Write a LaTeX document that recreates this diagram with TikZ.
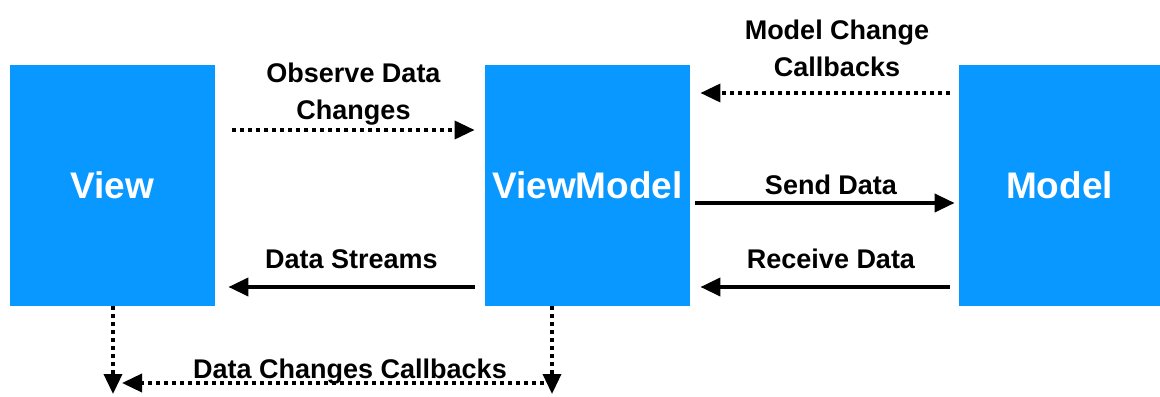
\documentclass[tikz,border=0pt]{standalone}
\usepackage{fontspec}
\setmainfont{Liberation Sans}
\usetikzlibrary{arrows.meta}
\definecolor{boxblue}{RGB}{8,152,255}

\begin{document}
\begin{tikzpicture}[x=0.5pt, y=0.5pt,
    layer/.style={fill=boxblue, text=white, inner sep=0pt, minimum height=120.5pt,
        font=\fontsize{18.5}{20}\selectfont\bfseries},
    lbl/.style={font=\fontsize{13.5}{18.5}\selectfont\bfseries, align=center},
    flow/.style={-{Triangle[length=10pt, width=9pt]}, line width=1.9pt},
    dotflow/.style={flow, line width=1.8pt, dash pattern=on 1.8pt off 2.2pt}]
\useasboundingbox (0,0) rectangle (1160,396);
% Draw the three layers
\node[layer, minimum width=102.5pt] (view) at (112.5,210.5) {View};
\node[layer, minimum width=102.5pt] (vm) at (587.5,210.5) {ViewModel};
\node[layer, minimum width=100.5pt] (model) at (1059.5,210.5) {Model};
% Draw arrows between view and viewmodel
\draw[dotflow] ([shift={(17,55.5)}]view.east) -- ([shift={(-10,55.5)}]vm.west)
    node[lbl, midway, above=-2pt] {Observe Data\\Changes};
\draw[flow] ([shift={(-10,-101.5)}]vm.west) -- ([shift={(13,-101.5)}]view.east)
    node[lbl, midway, above=5pt] {Data Streams};
% Draw arrows between viewmodel and model
\draw[dotflow] ([shift={(-9,92.5)}]model.west) -- ([shift={(10,92.5)}]vm.east)
    node[lbl, midway, above=4pt, xshift=6pt] {Model Change\\Callbacks};
\draw[flow] ([shift={(5,-17.5)}]vm.east) -- ([shift={(-4,-17.5)}]model.west)
    node[lbl, midway, above=0pt, xshift=3pt] {Send Data};
\draw[flow] ([shift={(-9,-101.5)}]model.west) -- ([shift={(10,-101.5)}]vm.east)
    node[lbl, midway, above=5pt, xshift=3pt] {Receive Data};
% Draw callbacks below the boxes
\coordinate (viewend) at ([shift={(0.5,0)}]view.south |- 0,2);
\coordinate (vmend) at ([shift={(-35.5,0)}]vm.south |- 0,2);
\draw[dotflow] ([shift={(0.5,0)}]view.south) -- (viewend);
\draw[dotflow] ([shift={(-35.5,0)}]vm.south) -- (vmend);
\draw[dotflow] ([shift={(-8,11)}]vmend) -- ([shift={(9,11)}]viewend)
    node[lbl, midway, above=-5pt, xshift=8.5pt] {Data Changes Callbacks};
\end{tikzpicture}
\end{document}
